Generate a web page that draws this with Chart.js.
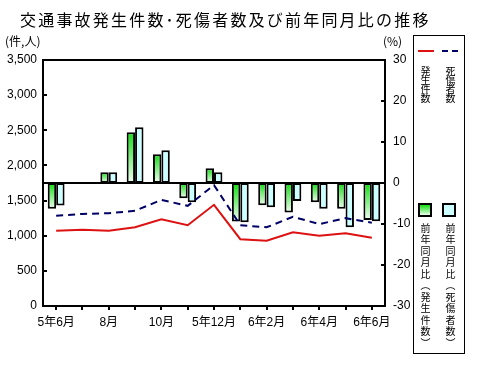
<!DOCTYPE html>
<html lang="ja">
<head>
<meta charset="utf-8">
<script src="https://cdn.jsdelivr.net/npm/chart.js@4.4.1/dist/chart.umd.min.js"></script>
<style>
  html, body { margin: 0; padding: 0; background: #fff; }
  #wrap { position: relative; width: 478px; height: 366px; overflow: hidden; }
  #chart { position: absolute; left: 0; top: 0; }
  .txt { position: absolute; font-family: "Noto Sans CJK JP", sans-serif; color: #000; white-space: nowrap; }
  .vert { writing-mode: vertical-rl; font-size: 10px; line-height: 10px; }
  #title { left: 20px; top: 11px; font-size: 16px; line-height: 16px; letter-spacing: 2.2px; }
  #legend { position: absolute; left: 413px; top: 35px; width: 52px; height: 319px; border: 1px solid #000; box-sizing: border-box; }
  .swatch { position: absolute; width: 14px; height: 14px; border: 2px solid #000; box-sizing: border-box; }
</style>
</head>
<body>
<div id="wrap">
  <canvas id="chart" width="478" height="366"></canvas>
  <div class="txt" id="title">交通事故発生件数･死傷者数及び前年同月比の推移</div>
  <div class="txt" style="left:5px; top:35px; font-size:12px; line-height:12px;">(件,人)</div>
  <div class="txt" style="left:383px; top:35px; font-size:12px; line-height:12px;">(%)</div>
  <div id="legend"></div>
  <canvas id="legendLines" width="52" height="30" style="position:absolute; left:413px; top:37px;"></canvas>
  <div class="txt vert" style="left:420px; top:66px; letter-spacing:-1px;">発生件数</div>
  <div class="txt vert" style="left:445px; top:66px; letter-spacing:-1px;">死傷者数</div>
  <div class="swatch" style="left:418px; top:203px; background:linear-gradient(#11dd11,#eaffea);"></div>
  <div class="swatch" style="left:442px; top:203px; background:#ccffff;"></div>
  <div class="txt vert" style="left:420px; top:223px; letter-spacing:1.5px;">前年同月比（発生件数）</div>
  <div class="txt vert" style="left:445px; top:223px; letter-spacing:1.5px;">前年同月比（死傷者数）</div>
</div>
<script>
// categories (every other one is labelled on the axis)
const months = ['5年6月', '7月', '8月', '9月', '10月', '11月', '5年12月', '6年1月', '6年2月', '6年3月', '6年4月', '6年5月', '6年6月'];

// left axis: counts
const accidents = [1070, 1085, 1070, 1120, 1235, 1150, 1440, 950, 930, 1050, 1000, 1035, 970];
const casualties = [1285, 1310, 1320, 1355, 1510, 1425, 1720, 1150, 1120, 1270, 1165, 1250, 1185];

// right axis: year-on-year change (%)
const accidentsYoY = [-6.3, 0, 2.6, 12.4, 7.0, -3.7, 3.6, -9.4, -5.4, -7.2, -4.7, -6.3, -9.0];
const casualtiesYoY = [-5.5, 0, 2.6, 13.6, 8.0, -4.7, 2.6, -9.6, -5.9, -4.4, -6.3, -10.8, -9.3];

const RED = '#dd1111';
const NAVY = '#000066';
const TICK_FONT = { family: '"Liberation Sans", "Noto Sans CJK JP", sans-serif', size: 12 };

// green bars fade from green (top) to white (bottom)
function greenFill(ctx) {
    const chart = ctx.chart;
    const y2 = chart.scales.y2;
    if (!chart.chartArea || !y2 || ctx.raw == null) return '#11dd11';
    const a = y2.getPixelForValue(ctx.raw);
    const b = y2.getPixelForValue(0);
    const top = Math.min(a, b), bot = Math.max(a, b);
    if (bot - top < 1) return '#11dd11';
    const g = chart.ctx.createLinearGradient(0, top, 0, bot);
    g.addColorStop(0, '#11dd11');
    g.addColorStop(1, '#f2fff2');
    return g;
}

// frame, zero line and inward tick marks
const axisMarks = {
    id: 'axisMarks',
    beforeDatasetsDraw(chart) {
        const { ctx, chartArea: a, scales } = chart;
        const y0 = scales.y2.getPixelForValue(0);
        ctx.save();
        ctx.strokeStyle = '#000';
        ctx.lineWidth = 2;
        ctx.beginPath();
        ctx.moveTo(a.left, y0);
        ctx.lineTo(a.right, y0);
        ctx.stroke();
        ctx.restore();
    },
    afterDraw(chart) {
        const { ctx, chartArea: a, scales } = chart;
        ctx.save();
        ctx.strokeStyle = '#000';
        ctx.lineWidth = 2;
        ctx.beginPath();
        ctx.moveTo(a.left - 1, a.top);
        ctx.lineTo(a.right + 1, a.top);
        scales.y.ticks.forEach(t => {
            const py = Math.round(scales.y.getPixelForValue(t.value));
            ctx.moveTo(a.left, py);
            ctx.lineTo(a.left + 4, py);
        });
        scales.y2.ticks.forEach(t => {
            const py = Math.round(scales.y2.getPixelForValue(t.value));
            ctx.moveTo(a.right - 4, py);
            ctx.lineTo(a.right, py);
        });
        ctx.stroke();
        ctx.restore();
    }
};

new Chart(document.getElementById('chart'), {
    type: 'bar',
    data: {
        labels: months,
        datasets: [
            {
                type: 'line', label: '発生件数', data: accidents, yAxisID: 'y',
                borderColor: RED, borderWidth: 2, pointRadius: 0, tension: 0, order: 0
            },
            {
                type: 'line', label: '死傷者数', data: casualties, yAxisID: 'y',
                borderColor: NAVY, borderWidth: 2, borderDash: [7, 5], pointRadius: 0, tension: 0, order: 0
            },
            {
                label: '前年同月比（発生件数）', data: accidentsYoY, yAxisID: 'y2',
                backgroundColor: greenFill, borderColor: '#000', borderWidth: 2, borderSkipped: false,
                categoryPercentage: 0.64, barPercentage: 1.0, order: 1
            },
            {
                label: '前年同月比（死傷者数）', data: casualtiesYoY, yAxisID: 'y2',
                backgroundColor: '#ccffff', borderColor: '#000', borderWidth: 2, borderSkipped: false,
                categoryPercentage: 0.64, barPercentage: 1.0, order: 1
            }
        ]
    },
    options: {
        responsive: false,
        animation: false,
        locale: 'en-US',
        layout: { padding: { top: 60, left: 0, right: 0, bottom: 0 } },
        plugins: {
            legend: { display: false },
            tooltip: { enabled: false }
        },
        scales: {
            x: {
                offset: true,
                afterFit(s) { s.height = 60; },
                grid: { display: true, drawOnChartArea: false, offset: false, tickLength: 4, color: '#000', lineWidth: 2 },
                border: { display: true, color: '#000', width: 2 },
                ticks: {
                    color: '#000', font: TICK_FONT, padding: 5, autoSkip: false, maxRotation: 0,
                    callback: (v, i) => (i % 2 === 0 ? months[i] : '')
                }
            },
            y: {
                position: 'left', min: 0, max: 3500,
                afterFit(s) { s.width = 43; },
                grid: { display: false, drawTicks: false },
                border: { display: true, color: '#000', width: 2 },
                ticks: { stepSize: 500, color: '#000', font: TICK_FONT, padding: 6,
                    callback: v => v.toLocaleString('en-US') }
            },
            y2: {
                position: 'right', min: -30, max: 30,
                afterFit(s) { s.width = 93; },
                grid: { display: false, drawTicks: false },
                border: { display: true, color: '#000', width: 2 },
                ticks: { stepSize: 10, color: '#000', font: TICK_FONT, padding: 8 }
            }
        }
    },
    plugins: [axisMarks]
});

// legend line samples
const lc = document.getElementById('legendLines').getContext('2d');
lc.lineWidth = 2;
lc.strokeStyle = RED;
lc.beginPath(); lc.moveTo(5, 14); lc.lineTo(21, 14); lc.stroke();
lc.strokeStyle = NAVY;
lc.setLineDash([6, 4]);
lc.beginPath(); lc.moveTo(29, 14); lc.lineTo(46, 14); lc.stroke();
</script>
</body>
</html>
